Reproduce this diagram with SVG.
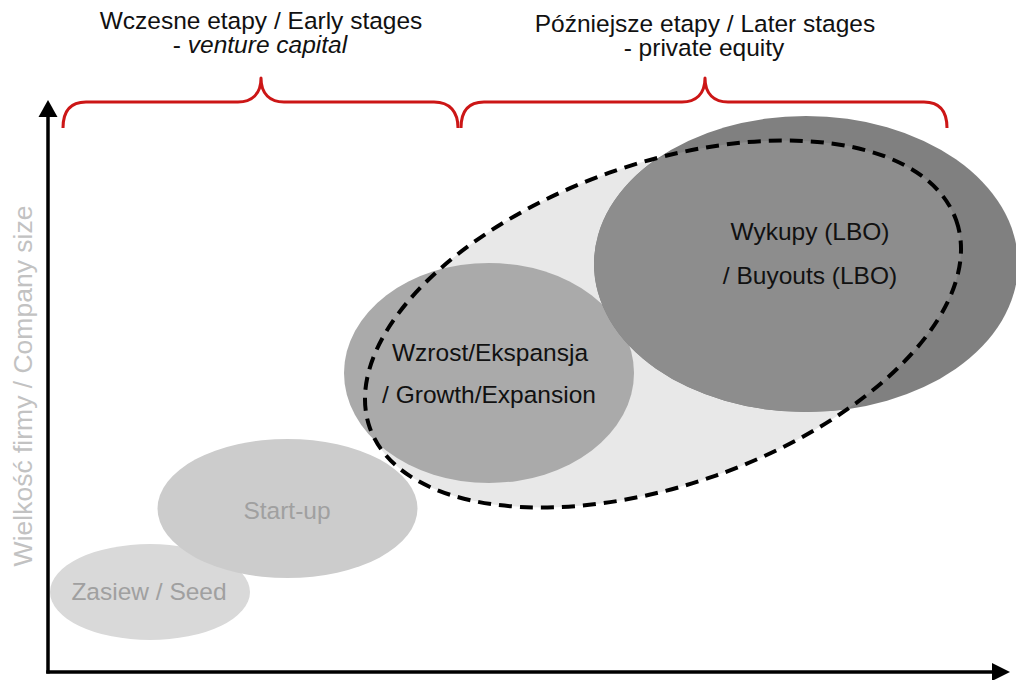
<svg xmlns="http://www.w3.org/2000/svg" width="1016" height="680" viewBox="0 0 1016 680">
  <style>
    .t { font-family: "Liberation Sans", Arial, Helvetica, sans-serif; font-size: 24.5px; text-anchor: middle; }
    .dark { fill: #111111; }
    .light { fill: #a0a0a0; }
    .axislabel { fill: #c2c2c2; font-size: 26.5px; }
    .brace { fill: none; stroke: #cc1616; stroke-width: 3; stroke-linecap: butt; stroke-linejoin: round; }
    .axis { stroke: #000000; stroke-width: 3.5; fill: none; }
    .head { fill: #000000; }
  </style>
  <defs>
    <clipPath id="peClip">
      <ellipse cx="663" cy="324" rx="311" ry="160.5" transform="rotate(-19.5 663 324)"/>
    </clipPath>
  </defs>

  <g id="titles">
    <text class="t dark" x="261" y="29">Wczesne etapy / Early stages</text>
    <text class="t dark" x="260" y="53">- <tspan font-style="italic">venture capital</tspan></text>
    <text class="t dark" x="705" y="32">Późniejsze etapy / Later stages</text>
    <text class="t dark" x="704" y="56">- private equity</text>
  </g>

  <g id="braces">
    <path class="brace" d="M63,128 C63,112 70,102 86,102 L238,102 C252,102 261,94 261,78 C261,94 270,102 284,102 L434,102 C450,102 458,112 458,128"/>
    <path class="brace" d="M461,128 C461,112 468,102 484,102 L682,102 C696,102 705,94 705,78 C705,94 714,102 728,102 L924,102 C940,102 947,112 947,128"/>
  </g>

  <g id="seed">
    <ellipse cx="150" cy="592" rx="100" ry="48" fill="#d9d9d9"/>
    <text class="t light" x="149" y="600">Zasiew / Seed</text>
  </g>

  <g id="pe-region-fill">
    <ellipse cx="663" cy="324" rx="311" ry="160.5" transform="rotate(-19.5 663 324)" fill="#e8e8e8"/>
  </g>

  <g id="startup">
    <ellipse cx="287.5" cy="508.5" rx="130" ry="69.5" fill="#cccccc"/>
    <text class="t light" x="287" y="519">Start-up</text>
  </g>

  <g id="growth">
    <ellipse cx="489" cy="373" rx="145" ry="110" fill="#aaaaaa"/>
    <text class="t dark" x="490" y="361">Wzrost/Ekspansja</text>
    <text class="t dark" x="489" y="403">/ Growth/Expansion</text>
  </g>

  <g id="buyouts">
    <ellipse cx="806" cy="264" rx="212" ry="148" fill="#808080"/>
    <ellipse cx="806" cy="264" rx="212" ry="148" fill="#8d8d8d" clip-path="url(#peClip)"/>
    <text class="t dark" x="810" y="240">Wykupy (LBO)</text>
    <text class="t dark" x="810" y="284">/ Buyouts (LBO)</text>
  </g>

  <g id="pe-region-outline">
    <ellipse cx="663" cy="324" rx="311" ry="160.5" transform="rotate(-19.5 663 324)" fill="none" stroke="#000000" stroke-width="4" stroke-dasharray="13 8"/>
  </g>

  <g id="axes">
    <line class="axis" x1="48" y1="673.5" x2="48" y2="114"/>
    <polygon class="head" points="48,100 57.5,117 38.5,117"/>
    <line class="axis" x1="46.25" y1="672" x2="993" y2="672"/>
    <polygon class="head" points="1010,672 992,663 992,681"/>
    <text class="t axislabel" transform="translate(32 386) rotate(-90)" x="0" y="0">Wielkość firmy / Company size</text>
  </g>
</svg>
